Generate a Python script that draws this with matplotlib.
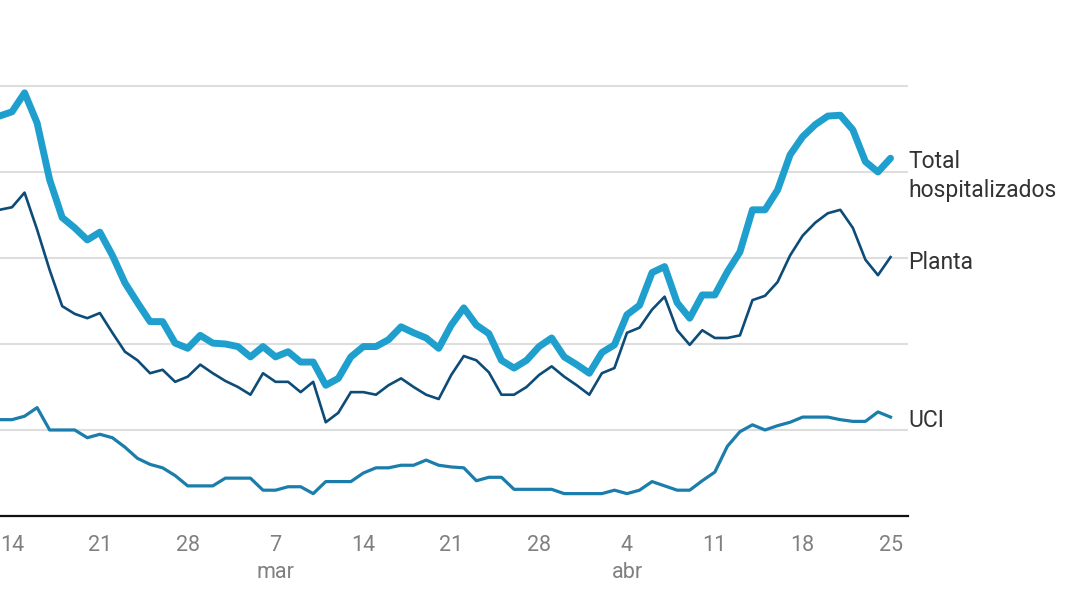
import numpy as np
import matplotlib
matplotlib.use('Agg')
import matplotlib.pyplot as plt

# days counted from 14 feb (day 0); series start on 13 feb
days = list(range(-1, 71))

total = [465, 470, 492, 457, 391, 347, 335, 321, 330, 303, 271, 248, 226, 226, 201, 195, 210, 201,
         200, 197, 185, 197, 185, 191, 179, 179, 152, 160, 185, 197, 197, 205, 220, 213, 207, 195,
         222, 242, 222, 212, 181, 172, 181, 197, 207, 185, 176, 166, 190, 199, 234, 245, 283, 290,
         248, 230, 257, 257, 284, 307, 356, 356, 379, 420, 441, 455, 465, 466, 449, 412, 400, 416]

planta = [356, 359, 376, 333, 286, 244, 235, 230, 236, 213, 191, 181, 166, 170, 156, 162, 176, 166,
          157, 150, 141, 166, 156, 156, 144, 156, 109, 120, 144, 144, 141, 152, 160, 150, 141, 136,
          164, 186, 181, 167, 141, 141, 150, 164, 174, 162, 152, 141, 166, 172, 213, 219, 240, 255,
          216, 199, 216, 207, 207, 210, 251, 256, 272, 303, 326, 341, 352, 356, 335, 298, 280, 301]

uci = [112, 112, 116, 126, 100, 100, 100, 91, 95, 91, 80, 67, 60, 56, 47, 35, 35, 35,
       44, 44, 44, 30, 30, 34, 34, 26, 40, 40, 40, 50, 56, 56, 59, 59, 65, 59,
       57, 56, 41, 45, 45, 31, 31, 31, 31, 26, 26, 26, 26, 30, 26, 30, 40, 35,
       30, 30, 41, 51, 81, 98, 106, 100, 105, 109, 115, 115, 115, 112, 110, 110, 121, 115]

tick_days = [0, 7, 14, 21, 28, 35, 42, 49, 56, 63, 70]
tick_labels = ['14', '21', '28', '7', '14', '21', '28', '4', '11', '18', '25']
month_days = [21, 49]
month_labels = ['mar', 'abr']
grid_values = [100, 200, 300, 400, 500]

c_total = '#1f9fcd'
c_planta = '#0d4c78'
c_uci = '#1a7dab'

fig = plt.figure(figsize=(10.8, 5.95), dpi=100)
ax = fig.add_axes([0.0, 0.1328, 0.8407, 0.7516])

for g in grid_values:
    ax.axhline(g, color='#dedede', lw=1.5, zorder=1)

ax.plot(days, uci, color=c_uci, lw=2.3, solid_joinstyle='round', zorder=3)
ax.plot(days, planta, color=c_planta, lw=1.9, solid_joinstyle='round', zorder=4)
ax.plot(days, total, color=c_total, lw=5.0, solid_joinstyle='round',
        solid_capstyle='round', zorder=5)

ax.set_xlim(-0.956, 71.39)
ax.set_ylim(0, 520)

for s in ['top', 'right', 'left']:
    ax.spines[s].set_visible(False)
ax.spines['bottom'].set_color('#111111')
ax.spines['bottom'].set_linewidth(1.6)

tick_font = ['Roboto', 'DejaVu Sans']
ax.set_yticks([])
ax.set_xticks(tick_days)
ax.set_xticklabels(tick_labels, fontsize=15.5, color='#808080', family=tick_font)
ax.tick_params(axis='x', length=0, pad=14)

for d, m in zip(month_days, month_labels):
    ax.annotate(m, xy=(d, 0), xycoords=('data', 'axes fraction'),
                xytext=(0, -57), textcoords='offset pixels',
                ha='center', va='center', fontsize=15.5, color='#808080', family=tick_font)

label_font = ['Roboto', 'DejaVu Sans']
lab_size = 16.5
ax.annotate('Total', xy=(71.39, total[-1]), xycoords='data', xytext=(0, -3),
            textcoords='offset pixels', ha='left', va='center',
            fontsize=lab_size, color='#333333', family=label_font, annotation_clip=False)
ax.annotate('hospitalizados', xy=(71.39, total[-1]), xycoords='data', xytext=(0, -32),
            textcoords='offset pixels', ha='left', va='center',
            fontsize=lab_size, color='#333333', family=label_font, annotation_clip=False)
ax.annotate('Planta', xy=(71.39, planta[-1]), xycoords='data', xytext=(0, -5),
            textcoords='offset pixels', ha='left', va='center',
            fontsize=lab_size, color='#333333', family=label_font, annotation_clip=False)
ax.annotate('UCI', xy=(71.39, uci[-1]), xycoords='data', xytext=(0, -3),
            textcoords='offset pixels', ha='left', va='center',
            fontsize=lab_size, color='#333333', family=label_font, annotation_clip=False)

fig.savefig('out.png', dpi=100, facecolor='white')
